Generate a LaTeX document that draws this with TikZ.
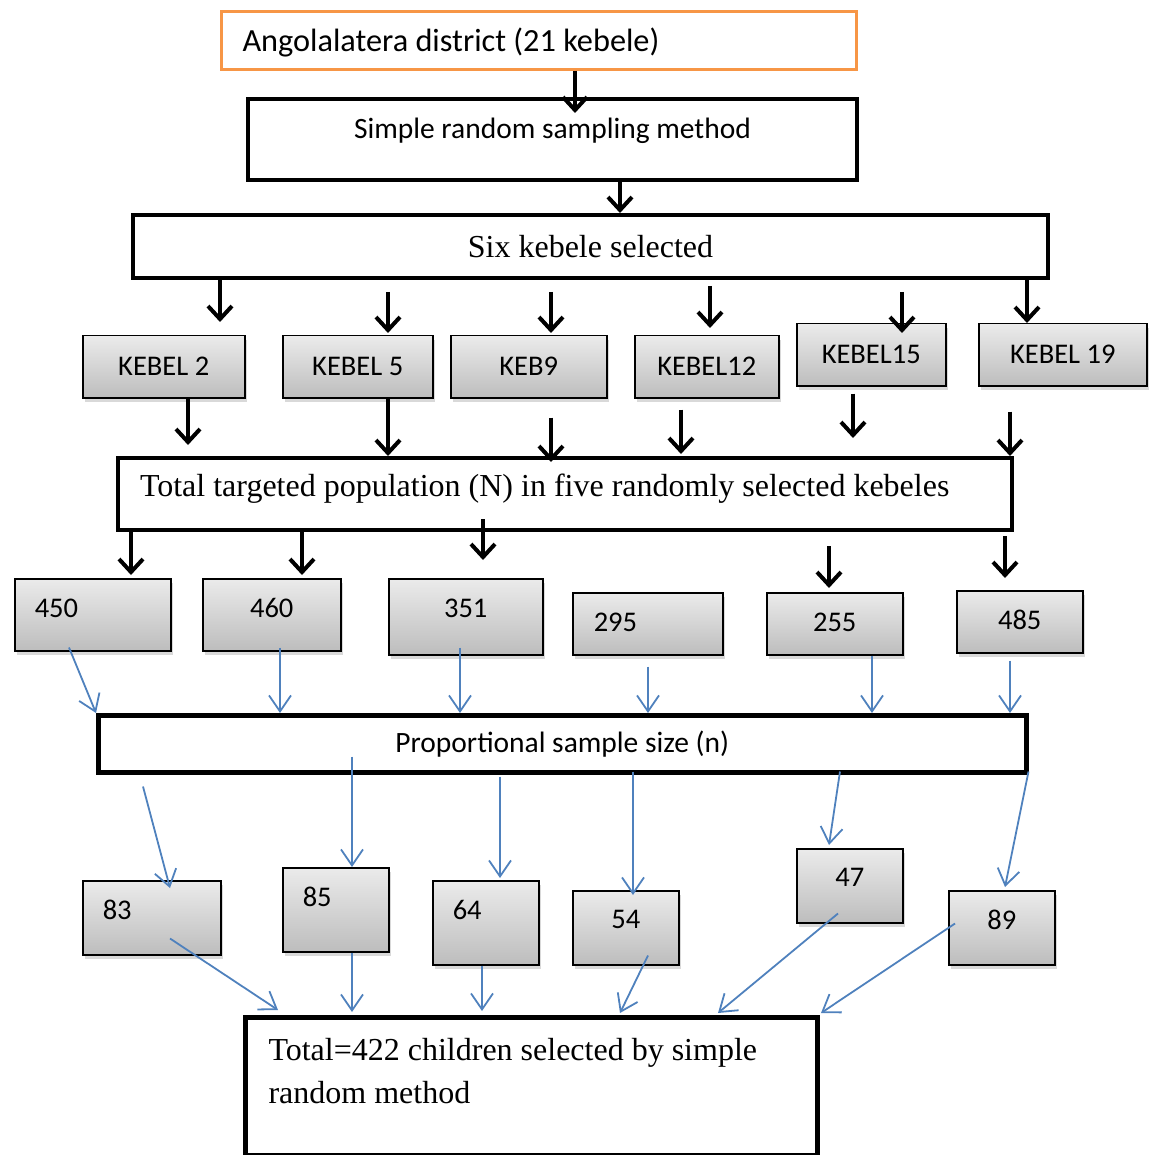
\documentclass[tikz,border=0pt]{standalone}
\usepackage{fontspec}
\setmainfont{Liberation Serif}
\setsansfont{Carlito}
\usetikzlibrary{arrows.meta}
\usetikzlibrary{calc}
\usetikzlibrary{shadows}
\definecolor{frameorange}{HTML}{F79646}
\definecolor{topgray}{HTML}{EBEBEB}
\definecolor{bottomgray}{HTML}{BDBDBD}
\definecolor{steelblue}{HTML}{4F81BD}
\tikzset{
  frame/.style={
    draw,
    rectangle,
    inner sep=0,
    anchor=north west,
  },
  sans/.style={
    node font=\sffamily\fontsize{29.5}{35}\selectfont,
  },
  serif/.style={
    node font=\rmfamily\fontsize{32}{43}\selectfont,
  },
  district/.style={
    frame,
    node font=\sffamily\fontsize{32.3}{38}\selectfont,
    draw=frameorange,
    line width=3pt,
  },
  process/.style={
    frame,
    fill=white,
    line width=4pt,
  },
  kebele/.style={
    frame,
    node font=\sffamily\fontsize{28.5}{34}\selectfont,
    line width=1.5pt,
    top color=topgray,
    bottom color=bottomgray,
    drop shadow={shadow xshift=2pt,shadow yshift=-4pt,opacity=0.3},
  },
  flow/.style={
    draw,
    -{Straight Barb[length=13pt,width=24pt]},
    line width=4pt,
  },
  link/.style={
    draw,
    steelblue,
    -{Straight Barb[length=16pt,width=22pt]},
    line width=1.8pt,
  },
}

\begin{document}
\begin{tikzpicture}[x=1pt,y=-1pt]
  \useasboundingbox (0,0) rectangle (1156,1155);

  \node (district) [district,minimum width=635pt,minimum height=58pt,text width=593pt,inner xsep=21pt,align=flush left,text height=28pt] at (220,10) {Angolalatera district (21 kebele)};
  \node (sampling) [process,sans,minimum width=609pt,minimum height=81pt,text depth=22pt] at (246,97) {Simple random sampling method};
  \node (selected) [process,serif,minimum width=915pt,minimum height=63pt] at (131,213) {Six kebele selected};

  \node (kebel2)  [kebele,minimum width=162pt,minimum height=62pt] at (82,335)  {KEBEL 2};
  \node (kebel5)  [kebele,minimum width=150pt,minimum height=62pt] at (282,335) {KEBEL 5};
  \node (kebel9)  [kebele,minimum width=156pt,minimum height=62pt] at (450,335) {KEB9};
  \node (kebel12) [kebele,minimum width=144pt,minimum height=62pt] at (634,335) {KEBEL12};
  \node (kebel15) [kebele,minimum width=149pt,minimum height=62pt] at (796,323) {KEBEL15};
  \node (kebel19) [kebele,minimum width=168pt,minimum height=62pt] at (978,323) {KEBEL 19};

  \node (population) [process,serif,minimum width=894pt,minimum height=72pt,text width=850pt,inner xsep=22pt,align=flush left,text depth=17pt] at (116,456) {Total targeted population (N) in five randomly selected kebeles};

  \node (pop450) [kebele,minimum width=156pt,minimum height=72pt,text width=116pt,inner xsep=20pt,align=flush left,text depth=14pt] at (14,578) {450};
  \node (pop460) [kebele,minimum width=138pt,minimum height=72pt,text depth=14pt] at (202,578) {460};
  \node (pop351) [kebele,minimum width=154pt,minimum height=76pt,text depth=18pt] at (388,578) {351};
  \node (pop295) [kebele,minimum width=150pt,minimum height=62pt,text width=108pt,inner xsep=21pt,align=flush left,text depth=4pt] at (572,592) {295};
  \node (pop255) [kebele,minimum width=136pt,minimum height=62pt,text depth=4pt] at (766,592) {255};
  \node (pop485) [kebele,minimum width=126pt,minimum height=62pt,text depth=4pt] at (956,590) {485};

  \node (proportional) [process,sans,minimum width=928pt,minimum height=57pt,line width=4.5pt] at (96,713) {Proportional sample size (n)};

  \node (size83) [kebele,minimum width=138pt,minimum height=74pt,text width=98pt,inner xsep=20pt,align=flush left,text depth=16pt] at (82,880) {83};
  \node (size85) [kebele,minimum width=106pt,minimum height=84pt,text width=66pt,inner xsep=20pt,align=flush left,text depth=26pt] at (282,867) {85};
  \node (size64) [kebele,minimum width=106pt,minimum height=84pt,text width=66pt,inner xsep=20pt,align=flush left,text depth=26pt] at (432,880) {64};
  \node (size54) [kebele,minimum width=106pt,minimum height=74pt,text depth=16pt] at (572,890) {54};
  \node (size47) [kebele,minimum width=106pt,minimum height=74pt,text depth=16pt] at (796,848) {47};
  \node (size89) [kebele,minimum width=106pt,minimum height=74pt,text depth=16pt] at (948,890) {89};

  \node (children) [process,serif,minimum width=572pt,minimum height=138pt,text width=526pt,inner xsep=23pt,align=flush left,text depth=74pt,line width=5pt] at (243,1015) {Total=422 children selected by simple\\random method};

  % district down to the kebeles
  \path [flow,shorten >=-16pt] (district.south -| 575,0) -- (sampling.north -| 575,0);
  \path [flow] (sampling.south -| 620,0) -- (selected.north -| 620,0);
  \path [flow,shorten >=13pt] (selected.south -| 220,0) -- (kebel2.north -| 220,0);
  \path [flow,shorten <=12pt,shorten >=2pt] (selected.south -| 388,0) -- (kebel5.north -| 388,0);
  \path [flow,shorten <=12pt,shorten >=2pt] (selected.south -| 551,0) -- (kebel9.north -| 551,0);
  \path [flow,shorten <=6pt,shorten >=7pt] (selected.south -| 710,0) -- (kebel12.north -| 710,0);
  \path [flow,shorten <=12pt,shorten >=-10pt] (selected.south -| 902,0) -- (kebel15.north -| 902,0);
  \path [flow] (selected.south -| 1027,0) -- (kebel19.north -| 1027,0);

  % kebeles to the population
  \path [flow,shorten >=11pt] (kebel2.south -| 188,0) -- (population.north -| 188,0);
  \path [flow] (kebel5.south -| 388,0) -- (population.north -| 388,0);
  \path [flow,shorten <=19pt,shorten >=-6pt] (kebel9.south -| 551,0) -- (population.north -| 551,0);
  \path [flow,shorten <=11pt,shorten >=2pt] (kebel12.south -| 681,0) -- (population.north -| 681,0);
  \path [flow,shorten <=7pt,shorten >=18pt] (kebel15.south -| 853,0) -- (population.north -| 853,0);
  \path [flow,shorten <=25pt] (kebel19.south -| 1010,0) -- (population.north -| 1010,0);

  \path [flow,shorten >=3pt] (population.south -| 131,0) -- (pop450.north -| 131,0);
  \path [flow,shorten >=3pt] (population.south -| 302,0) -- (pop460.north -| 302,0);
  \path [flow,shorten <=-13pt,shorten >=18pt] (population.south -| 483,0) -- (pop351.north -| 483,0);
  \path [flow,shorten <=14pt,shorten >=4pt] (population.south -| 829,0) -- (pop255.north -| 829,0);
  \path [flow,shorten <=4pt,shorten >=12pt] (population.south -| 1005,0) -- (pop485.north -| 1005,0);

  % proportional sample size
  \path [link] ($(pop450.south west)+(55,-4)$) -- (proportional.north west);
  \path [link,shorten <=-4pt] (pop460.south -| 280,0) -- (proportional.north -| 280,0);
  \path [link,shorten <=-8pt] (pop351.south -| 460,0) -- (proportional.north -| 460,0);
  \path [link,shorten <=11pt] (pop295.south -| 648,0) -- (proportional.north -| 648,0);
  \path [link] (pop255.south -| 872,0) -- (proportional.north -| 872,0);
  \path [link,shorten <=7pt] (pop485.south -| 1010,0) -- (proportional.north -| 1010,0);

  \path [link] ($(proportional.south west)+(47,12)$) -- ($(size83.north west)+(88,8)$);
  \path [link,shorten <=-18pt] (proportional.south -| 352,0) -- (size85.north -| 352,0);
  \path [link,shorten <=2pt,shorten >=2pt] (proportional.south -| 500,0) -- (size64.north -| 500,0);
  \path [link,shorten <=-3pt,shorten >=-5pt] (proportional.south -| 633,0) -- (size54.north -| 633,0);
  \path [link] ($(proportional.south west)+(744,-3)$) -- ($(size47.north west)+(33,-3)$);
  \path [link] ($(proportional.south east)+(0,-3)$) -- ($(size89.north west)+(57,-3)$);

  % selected children
  \path [link] ($(size83.south west)+(88,-17)$) -- ($(children.north west)+(35,-5)$);
  \path [link,shorten >=3pt] (size85.south -| 352,0) -- (children.north -| 352,0);
  \path [link,shorten >=4pt] (size64.south -| 482,0) -- (children.north -| 482,0);
  \path [link] ($(size54.south west)+(76,-10)$) -- ($(children.north west)+(377,-2)$);
  \path [link] ($(size47.south west)+(42,-10)$) -- ($(children.north west)+(475,-2)$);
  \path [link] ($(size89.south west)+(7,-42)$) -- ($(children.north east)+(1,-2)$);
\end{tikzpicture}
\end{document}
